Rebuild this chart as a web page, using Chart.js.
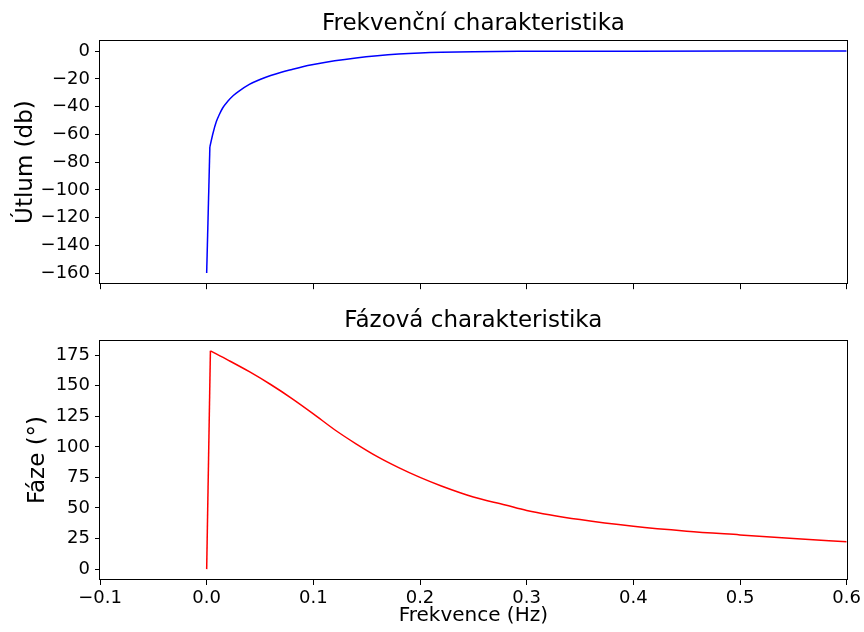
<!DOCTYPE html>
<html>
<head>
<meta charset="utf-8">
<script src="https://cdn.jsdelivr.net/npm/chart.js@4"></script>
<style>
body { margin: 0; background: #fff; }
#wrap { position: relative; width: 864px; height: 632px; }
canvas { position: absolute; left: 0; }
</style>
</head>
<body>
<div id="wrap">
  <canvas id="utlum" width="864" height="300" style="top:0"></canvas>
  <canvas id="faze" width="864" height="332" style="top:300px"></canvas>
</div>
<script>
// odečtené hodnoty z obrázku
const freq_gain = [0, 0.003, 0.006, 0.009, 0.012, 0.015, 0.02, 0.025, 0.03, 0.04, 0.05, 0.06,
  0.07, 0.08, 0.09, 0.1, 0.12, 0.14, 0.16, 0.18, 0.2, 0.22, 0.25, 0.3, 0.35, 0.4, 0.5, 0.6];
const gain_db = [-160, -69, -59, -51, -45.5, -41, -36, -32, -29, -24, -20.5, -17.6,
  -15.2, -13.2, -11.3, -9.7, -7, -4.9, -3.3, -2.1, -1.3, -0.8, -0.4, -0.15, -0.05, -0.02, 0, 0];

const freq_phase = [0, 0.0035, 0.02, 0.04, 0.06, 0.08, 0.1, 0.12, 0.14, 0.16, 0.18, 0.2,
  0.22, 0.25, 0.28, 0.3, 0.35, 0.4, 0.45, 0.5, 0.55, 0.6];
const phase_deg = [0, 178.5, 171, 161.5, 151, 139.5, 127, 114, 102.5, 92, 83, 75,
  68, 59, 52.5, 48, 40.5, 35, 31, 28, 25.1, 22.4];

const x_ticks = [-0.1, 0, 0.1, 0.2, 0.3, 0.4, 0.5, 0.6];
const gain_ticks = [0, -20, -40, -60, -80, -100, -120, -140, -160];
const phase_ticks = [0, 25, 50, 75, 100, 125, 150, 175];

const FONT = 'DejaVu Sans';
const minus = v => (v < 0 ? '\u2212' : '') + Math.abs(v);

// rámeček kolem grafu (jako v matplotlibu)
const ramecek = {
  id: 'ramecek',
  afterDatasetsDraw(chart) {
    const a = chart.chartArea, ctx = chart.ctx;
    ctx.save();
    ctx.strokeStyle = '#000';
    ctx.lineWidth = 1;
    ctx.strokeRect(Math.round(a.left) - 0.5, Math.round(a.top) + 0.5,
      Math.round(a.right - a.left) + 1, Math.round(a.bottom - a.top) - 1);
    ctx.restore();
  }
};

const ticky = {
  display: true, drawOnChartArea: false, drawTicks: true,
  tickLength: 5, tickColor: '#000', lineWidth: 1
};

function body(xs, ys, from, to) {
  const out = [];
  for (let i = from; i < to; i++) out.push({ x: xs[i], y: ys[i] });
  return out;
}

function makeChart(id, xs, ys, color, title, titlePad, yTitle, yPad, yMin, yMax, yTicks, yFmt, bottom) {
  // strmý skok na začátku rovně, zbytek hladce
  const line = { showLine: true, borderColor: color, borderWidth: 1.5, pointRadius: 0 };
  return new Chart(document.getElementById(id), {
    type: 'scatter',
    data: {
      datasets: [
        Object.assign({ data: body(xs, ys, 0, 2), tension: 0 }, line),
        Object.assign({ data: body(xs, ys, 1, xs.length), cubicInterpolationMode: 'monotone' }, line)
      ]
    },
    options: {
      responsive: false,
      animation: false,
      layout: { padding: { left: 0, right: 14, top: 0, bottom: 0 } },
      plugins: { legend: { display: false }, tooltip: { enabled: false } },
      scales: {
        x: {
          type: 'linear', min: -0.1, max: 0.6,
          afterBuildTicks: s => { s.ticks = x_ticks.map(v => ({ value: v })); },
          afterFit: s => { s.height = bottom ? 52 : 15; },
          grid: ticky,
          border: { display: false },
          ticks: {
            color: bottom ? '#000' : 'rgba(0,0,0,0)',
            font: { family: FONT, size: 18 },
            padding: 3, maxRotation: 0, autoSkip: false,
            callback: v => (v < 0 ? '\u2212' : '') + Math.abs(v).toFixed(1)
          },
          title: {
            display: bottom, text: 'Frekvence (Hz)', color: '#000',
            font: { family: FONT, size: 20 }, padding: { top: 0, bottom: 4 }
          }
        },
        x2: {
          type: 'linear', position: 'top', min: -0.1, max: 0.6,
          afterFit: s => { s.height = 40; },
          grid: { display: false }, border: { display: false },
          ticks: { display: false },
          title: {
            display: true, text: title, color: '#000',
            font: { family: FONT, size: 23 }, padding: { top: titlePad, bottom: 0 }
          }
        },
        y: {
          min: yMin, max: yMax,
          afterBuildTicks: s => { s.ticks = yTicks.map(v => ({ value: v })); },
          afterFit: s => { s.width = 100; },
          grid: ticky,
          border: { display: false },
          ticks: {
            color: '#000', font: { family: FONT, size: 18 }, padding: 5,
            callback: yFmt
          },
          title: {
            display: true, text: yTitle, color: '#000',
            font: { family: FONT, size: 23 }, padding: { top: yPad, bottom: 0 }
          }
        }
      }
    },
    plugins: [ramecek]
  });
}

makeChart('utlum', freq_gain, gain_db, '#0000ff', 'Frekvenční charakteristika', 10,
  'Útlum (db)', 12, -168, 8, gain_ticks, minus, false);
makeChart('faze', freq_phase, phase_deg, '#ff0000', 'Fázová charakteristika', 7,
  'Fáze (°)', 24, -8.9, 187.4, phase_ticks, v => String(v), true);
</script>
</body>
</html>
